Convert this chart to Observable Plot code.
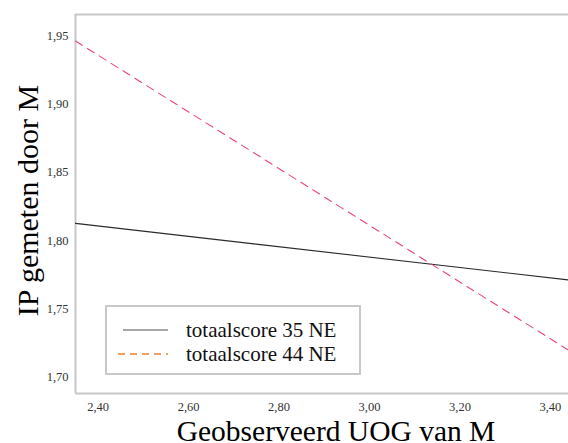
<!DOCTYPE html>
<html>
<head>
<meta charset="utf-8">
<script src="https://cdn.jsdelivr.net/npm/d3@7"></script>
<script src="https://cdn.jsdelivr.net/npm/@observablehq/plot@0.6"></script>
<style>
  body { margin: 0; background: #fff; }
  #wrap { position: relative; width: 568px; height: 443px; overflow: hidden; font-family: "Liberation Serif", "Times New Roman", serif; }
  #wrap svg text { font-family: "Liberation Serif", "Times New Roman", serif; }
  #legend { position: absolute; left: 105px; top: 305px; width: 252px; height: 66px; border: 2px solid #c8c8c8; background: #fff; }
  .row { position: absolute; left: 0; height: 24px; display: flex; align-items: center; font-size: 21px; color: #111; white-space: nowrap; font-family: "Liberation Serif", "Times New Roman", serif; }
  .row svg { margin-left: 11px; margin-right: 16px; }
</style>
</head>
<body>
<div id="wrap"></div>
<script>
const xs = [2.35, 3.44];
const series35 = [1.8127, 1.7713];
const series44 = [1.9460, 1.7200];
const seriesNames = ["totaalscore 35 NE", "totaalscore 44 NE"];
const xTicks = [2.4, 2.6, 2.8, 3.0, 3.2, 3.4];
const yTicks = [1.70, 1.75, 1.80, 1.85, 1.90, 1.95];
const xDomain = [2.35, 3.44];
const yDomain = [1.6883, 1.9654];
const xTitle = "Geobserveerd UOG van M";
const yTitle = "IP gemeten door M";

const d35 = xs.map((x, i) => ({x, y: series35[i]}));
const d44 = xs.map((x, i) => ({x, y: series44[i]}));
const fmt = d => d.toFixed(2).replace(".", ",");

const chart = Plot.plot({
  width: 568,
  height: 443,
  marginLeft: 75,
  marginRight: 0,
  marginTop: 14,
  marginBottom: 50,
  style: { fontFamily: "'Liberation Serif', 'Times New Roman', serif", background: "#fff" },
  x: { domain: xDomain },
  y: { domain: yDomain },
  marks: [
    Plot.ruleX([xDomain[0]], { stroke: "#c8c8c8", strokeWidth: 2 }),
    Plot.ruleY([yDomain[0], yDomain[1]], { stroke: "#c8c8c8", strokeWidth: 2 }),
    Plot.axisX({ ticks: xTicks, tickFormat: fmt, tickSize: 0, tickPadding: 9, fontSize: 12.5, color: "#333", label: null }),
    Plot.axisY({ ticks: yTicks, tickFormat: fmt, tickSize: 0, tickPadding: 7, fontSize: 12.5, color: "#333", label: null }),
    Plot.line(d35, { x: "x", y: "y", stroke: "#2a2a2a", strokeWidth: 1.1, clip: true }),
    Plot.line(d44, { x: "x", y: "y", stroke: "#e8457a", strokeWidth: 1.1, strokeDasharray: "8,6", clip: true }),
    Plot.text([yTitle], { frameAnchor: "left", rotate: -90, dx: -38, dy: -3.5, fontSize: 30, fill: "#000", textAnchor: "middle", lineAnchor: "bottom" }),
    Plot.text([xTitle], { frameAnchor: "bottom", dx: 14, dy: 47, fontSize: 29.5, fill: "#000", textAnchor: "middle", lineAnchor: "bottom" })
  ]
});
const wrap = document.getElementById("wrap");
wrap.appendChild(chart);

const legend = document.createElement("div");
legend.id = "legend";
const styles = [
  { stroke: "#8a8a8a", dash: null },
  { stroke: "#f08030", dash: "7,5" }
];
seriesNames.forEach((name, i) => {
  const row = document.createElement("div");
  row.className = "row";
  row.style.top = (11 + i * 24) + "px";
  const s = styles[i];
  row.innerHTML = `<svg width="52" height="6"><line x1="${i ? 0 : 5}" y1="3" x2="50" y2="3" stroke="${s.stroke}" stroke-width="1.6" ${s.dash ? `stroke-dasharray="${s.dash}"` : ""}/></svg><span>${name}</span>`;
  legend.appendChild(row);
});
wrap.appendChild(legend);
</script>
</body>
</html>
